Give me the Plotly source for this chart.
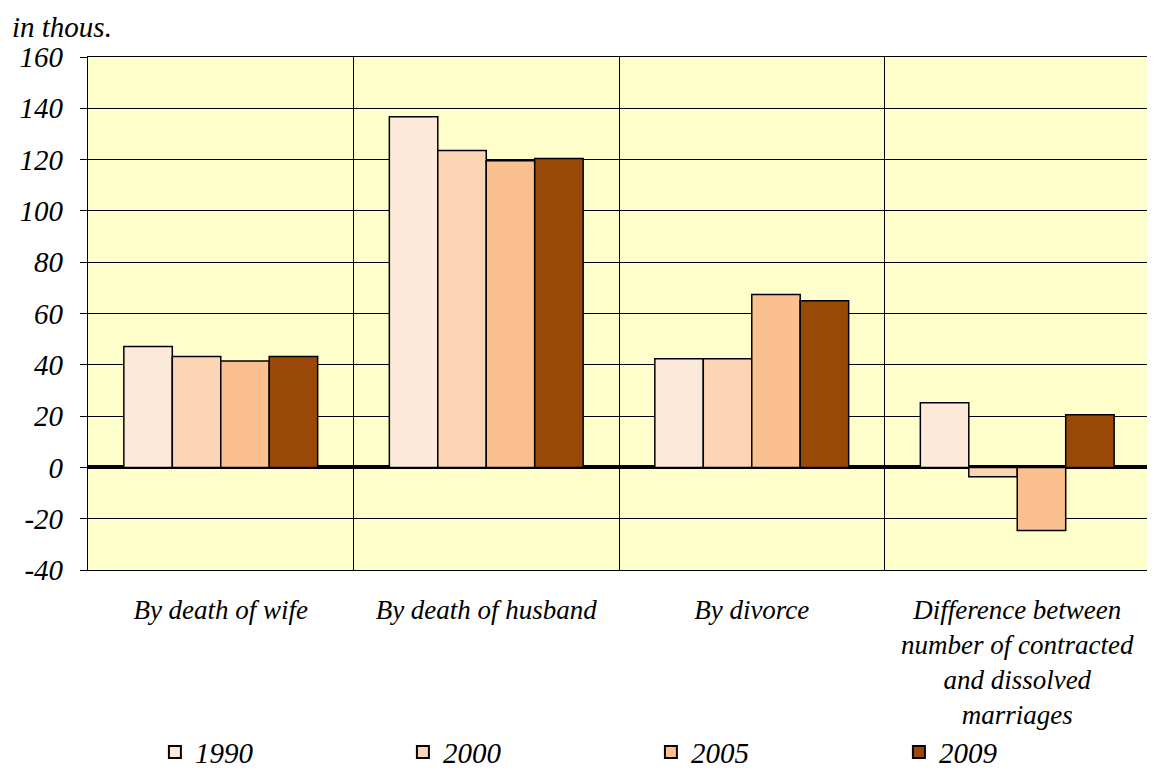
import plotly.graph_objects as go

categories = ["By death of wife", "By death of husband", "By divorce",
              "Difference between<br>number of contracted<br>and dissolved<br>marriages"]
years = ["1990", "2000", "2005", "2009"]
v1990 = [47.1, 136.7, 42.4, 25.2]
v2000 = [43.2, 123.5, 42.4, -3.6]
v2005 = [41.5, 119.6, 67.4, -24.6]
v2009 = [43.2, 120.4, 65.0, 20.5]
series = [v1990, v2000, v2005, v2009]
colors = ["#FDE9D9", "#FCD5B5", "#FAC090", "#984807"]
y_ticks = [-40, -20, 0, 20, 40, 60, 80, 100, 120, 140, 160]
y_tick_text = ["-40", "-20", "0", "20", "40", "60", "80", "100", "120", "140", "160"]

FONT = "Liberation Serif"

fig = go.Figure()
for name, vals, col in zip(years, series, colors):
    fig.add_trace(go.Bar(
        x=categories, y=vals, name=name,
        marker=dict(color=col, line=dict(color="black", width=1.5)),
    ))

# page body has an 8px margin: figure is 1147x767 so it ends at the window edge
fig.update_layout(
    width=1147, height=767,
    paper_bgcolor="white", plot_bgcolor="#FFFFCC",
    barmode="group", bargap=0.27, bargroupgap=0,
    margin=dict(l=80, r=5, t=49, b=205, autoexpand=False),
    font=dict(family=FONT, size=27, color="black", style="italic"),
    showlegend=True,
    legend=dict(orientation="h", x=0.063, xanchor="left",
                yref="paper", y=-0.355, yanchor="middle",
                bgcolor="rgba(0,0,0,0)",
                entrywidth=203, entrywidthmode="pixels",
                font=dict(family=FONT, size=29, style="italic"),
                itemsizing="constant", traceorder="normal"),
    annotations=[dict(text="in thous.", xref="paper", yref="paper",
                      x=-78/1062, y=1.0, xanchor="left", yanchor="bottom",
                      yshift=12, showarrow=False,
                      font=dict(family=FONT, size=29, style="italic"))],
)
fig.update_xaxes(
    type="category", tickson="boundaries", showgrid=True, gridcolor="black", gridwidth=1.2,
    showline=True, linecolor="black", linewidth=1.2, mirror=True,
    ticks="", tickfont=dict(family=FONT, size=27, style="italic"),
    ticklabelstandoff=15,
)
fig.update_yaxes(
    range=[-40, 160], tickvals=y_ticks, ticktext=y_tick_text,
    showgrid=True, gridcolor="black", gridwidth=1.2,
    zeroline=True, zerolinecolor="black", zerolinewidth=4,
    showline=True, linecolor="black", linewidth=1.2, mirror=True,
    ticks="outside", ticklen=7, tickcolor="black",
    tickfont=dict(family=FONT, size=29, style="italic"),
    ticklabelstandoff=11,
)

fig.write_html("out.html")
